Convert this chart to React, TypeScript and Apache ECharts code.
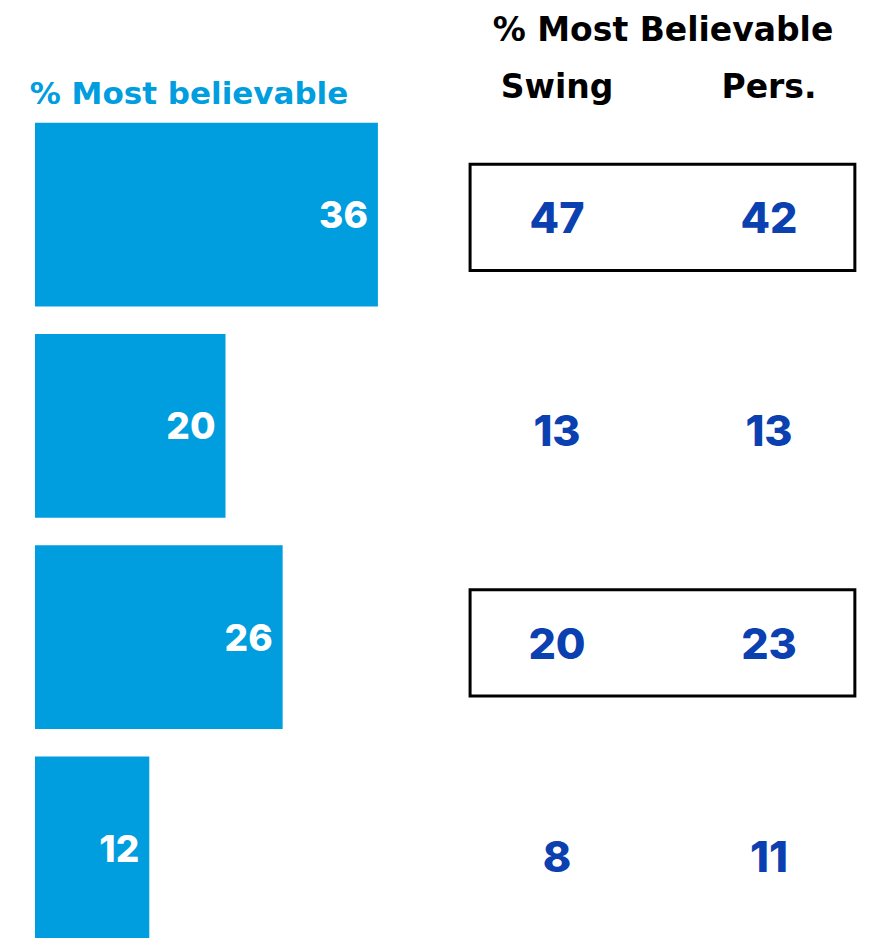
import React, { useEffect, useRef } from "react";
import * as echarts from "echarts";

const CATEGORIES = ["Row 1", "Row 2", "Row 3", "Row 4"];
const MOST_BELIEVABLE = [36, 20, 26, 12];
const COLUMNS = ["Swing", "Pers."];
const SWING = [47, 13, 20, 8];
const PERS = [42, 13, 23, 11];
const HIGHLIGHTED = ["Row 1", "Row 3"];

const LEFT_TITLE = "% Most believable";
const RIGHT_TITLE = "% Most Believable";

const FONT = "Inter, 'Open Sans', sans-serif";
const TITLE_FONT = "'DejaVu Sans', Inter, sans-serif";
const CYAN = "#009ddf";
const NAVY = "#0a40b0";

export default function App() {
  const ref = useRef<HTMLDivElement>(null);
  useEffect(() => {
    if (!ref.current) return;
    const chart = echarts.init(ref.current, undefined, { renderer: "svg" });
    const tableData = (vals: number[], col: string) =>
      vals.map((v, i) => [col, CATEGORIES[i], v]);
    chart.setOption({
      animation: false,
      textStyle: { fontFamily: FONT },
      graphic: [
        {
          type: "text",
          x: 189,
          y: 93,
          style: {
            text: LEFT_TITLE,
            fill: CYAN,
            font: `bold 31px ${TITLE_FONT}`,
            textAlign: "center",
            textVerticalAlign: "middle",
          },
        },
        {
          type: "text",
          x: 663,
          y: 29,
          style: {
            text: RIGHT_TITLE,
            fill: "#000",
            font: `bold 33px ${TITLE_FONT}`,
            textAlign: "center",
            textVerticalAlign: "middle",
          },
        },
      ],
      grid: [
        { left: 35, top: 109, width: 381, height: 845 },
        { left: 451, top: 111, width: 424, height: 851 },
      ],
      xAxis: [
        {
          gridIndex: 0,
          type: "value",
          min: 0,
          max: 40,
          show: false,
        },
        {
          gridIndex: 1,
          type: "category",
          data: COLUMNS,
          position: "top",
          axisLine: { show: false },
          axisTick: { show: false },
          splitLine: { show: false },
          axisLabel: {
            color: "#000",
            fontSize: 33,
            fontWeight: "bold",
            fontFamily: TITLE_FONT,
            margin: 8,
          },
        },
      ],
      yAxis: [
        {
          gridIndex: 0,
          type: "category",
          data: CATEGORIES,
          inverse: true,
          show: false,
        },
        {
          gridIndex: 1,
          type: "category",
          data: CATEGORIES,
          inverse: true,
          show: false,
        },
      ],
      series: [
        {
          type: "bar",
          xAxisIndex: 0,
          yAxisIndex: 0,
          data: MOST_BELIEVABLE,
          barCategoryGap: "13%",
          itemStyle: { color: CYAN },
          label: {
            show: true,
            position: "insideRight",
            distance: 10,
            color: "#fff",
            fontSize: 37,
            fontWeight: 800,
            fontFamily: FONT,
          },
        },
        {
          type: "custom",
          xAxisIndex: 1,
          yAxisIndex: 1,
          data: HIGHLIGHTED.map((c) => [COLUMNS[0], c]),
          renderItem: (params: any, api: any) => {
            const cat = api.value(1);
            const a = api.coord([0, cat]);
            const b = api.coord([1, cat]);
            const size = api.size([1, 1]);
            const h = size[1] * 0.5;
            const x0 = a[0] - size[0] * 0.41;
            const x1 = b[0] + size[0] * 0.405;
            return {
              type: "rect",
              shape: { x: x0, y: a[1] - h / 2, width: x1 - x0, height: h },
              style: { fill: "none", stroke: "#000", lineWidth: 3 },
            };
          },
          encode: { x: 0, y: 1 },
          z: 1,
        },
        ...[
          { col: COLUMNS[0], vals: SWING },
          { col: COLUMNS[1], vals: PERS },
        ].map((s) => ({
          type: "scatter",
          name: s.col,
          xAxisIndex: 1,
          yAxisIndex: 1,
          data: tableData(s.vals, s.col),
          symbolSize: 0,
          itemStyle: { opacity: 1 },
          z: 3,
          label: {
            show: true,
            position: "inside",
            formatter: (p: any) => String(p.value[2]),
            color: NAVY,
            opacity: 1,
            fontSize: 43,
            fontWeight: 800,
            fontFamily: FONT,
          },
        })),
      ],
    });
    return () => chart.dispose();
  }, []);
  return (
    <div
      ref={ref}
      style={{ position: "fixed", left: 0, top: 0, width: 900, height: 980, background: "#fff" }}
    />
  );
}
